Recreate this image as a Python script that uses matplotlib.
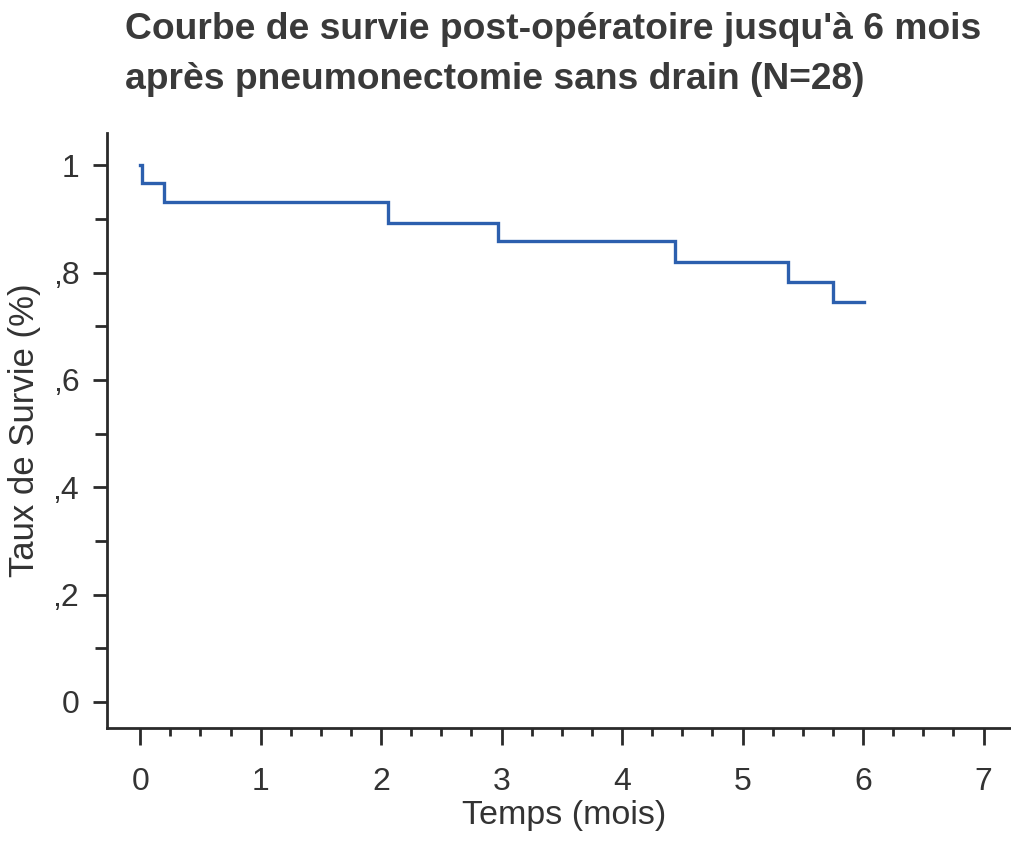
import matplotlib
matplotlib.use('Agg')
import matplotlib.pyplot as plt
from matplotlib.ticker import FixedFormatter, FixedLocator

# Kaplan-Meier steps
temps = [0.0, 0.014, 0.194, 2.06, 2.97, 4.44, 5.38, 5.75, 6.01]
survie = [1.0, 0.966, 0.931, 0.892, 0.858, 0.820, 0.783, 0.745, 0.745]

yticks = [0, 0.2, 0.4, 0.6, 0.8, 1.0]
ylabels = ['0', ',2', ',4', ',6', ',8', '1']
xticks = [0, 1, 2, 3, 4, 5, 6, 7]

titre = "Courbe de survie post-opératoire jusqu'à 6 mois\naprès pneumonectomie sans drain (N=28)"

plt.rcParams['font.family'] = ['Liberation Sans', 'DejaVu Sans']
txt = '#333333'
blue = '#2c5fae'

fig = plt.figure(figsize=(10.12, 8.42), dpi=100)
ax = fig.add_axes([107/1012, 1 - 728/842, (1012 - 107)/1012 + 0.01, (728 - 133)/842])

ax.step(temps, survie, where='post', color=blue, linewidth=2.4, solid_joinstyle='miter')

ax.set_xlim(-0.275, 7.32)
ax.set_ylim(-0.0485, 1.06)

ax.spines['top'].set_visible(False)
ax.spines['right'].set_visible(False)
for s in ('left', 'bottom'):
    ax.spines[s].set_linewidth(2.0)
    ax.spines[s].set_color('#2a2a2a')

ax.xaxis.set_major_locator(FixedLocator(xticks))
ax.xaxis.set_minor_locator(FixedLocator([i * 0.25 for i in range(1, 30)]))
ax.yaxis.set_major_locator(FixedLocator(yticks))
ax.yaxis.set_major_formatter(FixedFormatter(ylabels))
ax.yaxis.set_minor_locator(FixedLocator([0.1, 0.3, 0.5, 0.7, 0.9]))

ax.tick_params(axis='both', which='major', direction='out', length=10, width=2,
               color='#2a2a2a', labelsize=23, labelcolor=txt)
ax.tick_params(axis='both', which='minor', direction='out', length=6, width=2,
               color='#2a2a2a')
ax.tick_params(axis='x', which='major', length=12, pad=16)
ax.tick_params(axis='y', which='major', pad=10)
ax.tick_params(axis='y', which='minor', length=9)

ax.set_xlabel('Temps (mois)', fontsize=24.5, color=txt, labelpad=2)
ax.set_ylabel('Taux de Survie (%)', fontsize=25, color=txt, labelpad=8)

fig.text(125/1012, 1 - 12/842, titre, fontsize=26.8, fontweight='bold', color='#3a3a3a',
         ha='left', va='top', linespacing=1.55)

fig.savefig('out.png', dpi=100)
